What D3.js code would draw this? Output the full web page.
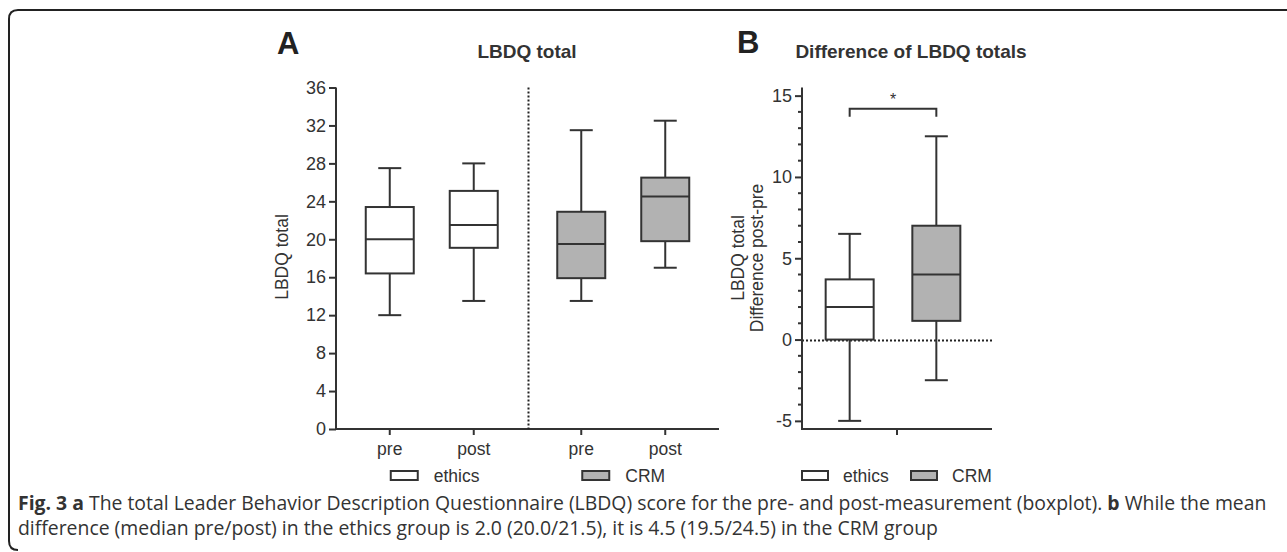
<!DOCTYPE html>
<html>
<head>
<meta charset="utf-8">
<script src="https://cdn.jsdelivr.net/npm/d3@7"></script>
<style>
  body { margin: 0; background: #fff; }
  svg { display: block; }
</style>
</head>
<body>
<script>
// panel A: LBDQ total, boxplot stats [min, q1, median, q3, max]
var groups = ["ethics", "CRM"];
var phases = ["pre", "post"];
var statsA = [
  { group: "ethics", phase: "pre",  v: [12, 16.4, 20, 23.4, 27.5] },
  { group: "ethics", phase: "post", v: [13.5, 19.1, 21.5, 25.1, 28] },
  { group: "CRM",    phase: "pre",  v: [13.5, 15.9, 19.5, 22.9, 31.5] },
  { group: "CRM",    phase: "post", v: [17, 19.8, 24.5, 26.5, 32.5] }
];
var ticksA = [0, 4, 8, 12, 16, 20, 24, 28, 32, 36];

// panel B: difference post-pre
var statsB = [
  { group: "ethics", v: [-5, 0, 2, 3.7, 6.5] },
  { group: "CRM",    v: [-2.5, 1.15, 4, 7, 12.5] }
];
var ticksB = [-5, 0, 5, 10, 15];
var minorB = d3.range(-5, 16, 1);

var colors = { ethics: "#ffffff", CRM: "#b2b2b2" };
var ink = "#333";

var width = 1287, height = 552;
var svg = d3.select("body").append("svg").attr("width", width).attr("height", height);

// frame
svg.append("path")
  .attr("d", "M1290,10 L18,10 Q9,10 9,19 L9,541 Q9,550 18,550")
  .attr("fill", "none").attr("stroke", "#222").attr("stroke-width", 2);

var font = "'Liberation Sans', Arial, sans-serif";
var boxW = 48, capW = 23;

function drawBox(g, cx, v, y, fill) {
  g.append("line").attr("x1", cx).attr("x2", cx).attr("y1", y(v[0])).attr("y2", y(v[1]));
  g.append("line").attr("x1", cx).attr("x2", cx).attr("y1", y(v[3])).attr("y2", y(v[4]));
  g.append("line").attr("x1", cx - capW / 2).attr("x2", cx + capW / 2).attr("y1", y(v[0])).attr("y2", y(v[0]));
  g.append("line").attr("x1", cx - capW / 2).attr("x2", cx + capW / 2).attr("y1", y(v[4])).attr("y2", y(v[4]));
  g.append("rect").attr("x", cx - boxW / 2).attr("y", y(v[3]))
    .attr("width", boxW).attr("height", y(v[1]) - y(v[3])).attr("fill", fill);
  g.append("line").attr("x1", cx - boxW / 2).attr("x2", cx + boxW / 2).attr("y1", y(v[2])).attr("y2", y(v[2]));
}

// ---------- panel A ----------
var yA = d3.scaleLinear().domain([0, 36]).range([429, 87.5]);
var xOuter = d3.scaleBand().domain(groups).range([336, 719]);
var xInner = d3.scalePoint().domain(phases).range([0, xOuter.bandwidth()]).padding(0.64);

var gA = svg.append("g").attr("font-family", font);

var axA = gA.append("g").attr("transform", "translate(336,0)")
  .call(d3.axisLeft(yA).tickValues(ticksA).tickSize(7).tickPadding(3));
axA.select(".domain").attr("d", "M0," + yA(36) + "V" + yA(0));
axA.selectAll("path, line").attr("stroke", ink).attr("stroke-width", 2);
axA.selectAll("text").attr("font-size", 18).attr("fill", ink).attr("font-family", font);

var xTicksA = [];
groups.forEach(function (gr) { phases.forEach(function (p) { xTicksA.push({ g: gr, p: p }); }); });
gA.append("line").attr("x1", 335).attr("x2", 719).attr("y1", yA(0)).attr("y2", yA(0))
  .attr("stroke", ink).attr("stroke-width", 2);
gA.selectAll(".xt").data(xTicksA).enter().append("line")
  .attr("x1", d => xOuter(d.g) + xInner(d.p)).attr("x2", d => xOuter(d.g) + xInner(d.p))
  .attr("y1", yA(0)).attr("y2", yA(0) + 6).attr("stroke", ink).attr("stroke-width", 2);
gA.selectAll(".xl").data(xTicksA).enter().append("text")
  .attr("x", d => xOuter(d.g) + xInner(d.p)).attr("y", 455)
  .attr("text-anchor", "middle").attr("font-size", 17.5).attr("fill", ink).text(d => d.p);

// dotted divider
gA.append("line").attr("x1", Math.round(xOuter("CRM")) + 0.5).attr("x2", Math.round(xOuter("CRM")) + 0.5)
  .attr("y1", yA(36)).attr("y2", yA(0))
  .attr("stroke", "#222").attr("stroke-width", 2).attr("stroke-dasharray", "2,2");

var boxesA = gA.append("g").attr("stroke", ink).attr("stroke-width", 2);
statsA.forEach(function (d) {
  drawBox(boxesA, xOuter(d.group) + xInner(d.phase), d.v, yA, colors[d.group]);
});

gA.append("text").attr("x", 277).attr("y", 54).attr("font-size", 31).attr("font-weight", "bold")
  .attr("fill", "#222").text("A");
gA.append("text").attr("x", 527).attr("y", 58).attr("text-anchor", "middle").attr("font-size", 19)
  .attr("font-weight", "bold").attr("fill", ink).text("LBDQ total");
gA.append("text").attr("transform", "translate(288,257) rotate(-90)").attr("text-anchor", "middle")
  .attr("font-size", 17.5).attr("fill", ink).text("LBDQ total");

// legend A
var legA = gA.selectAll(".legA").data(groups).enter().append("g")
  .attr("transform", d => "translate(" + (xOuter(d) + xInner("pre") + 1) + ",471)");
legA.append("rect").attr("width", 27).attr("height", 9).attr("fill", d => colors[d])
  .attr("stroke", ink).attr("stroke-width", 2);
legA.append("text").attr("x", 43).attr("y", 11).attr("font-size", 17.5).attr("fill", ink).text(d => d);

// ---------- panel B ----------
var yB = d3.scaleLinear().domain([-5.5, 15.5]).range([429, 87.5]);
var xB = d3.scalePoint().domain(groups).range([802, 984]).padding(0.55);
var gB = svg.append("g").attr("font-family", font);

gB.append("line").attr("x1", 802).attr("x2", 992).attr("y1", Math.round(yB(0)) + 0.5).attr("y2", Math.round(yB(0)) + 0.5)
  .attr("stroke", "#222").attr("stroke-width", 2).attr("stroke-dasharray", "2,2");

var axB = gB.append("g").attr("transform", "translate(802,0)")
  .call(d3.axisLeft(yB).tickValues(ticksB).tickSize(7).tickPadding(3).tickFormat(d => String(d)));
axB.select(".domain").attr("d", "M0," + yB(15.5) + "V" + yB(-5.5));
axB.selectAll("path, line").attr("stroke", ink).attr("stroke-width", 2);
axB.selectAll("text").attr("font-size", 18).attr("fill", ink).attr("font-family", font);
gB.selectAll(".minor").data(minorB.filter(d => d % 5 !== 0)).enter().append("line")
  .attr("x1", 798).attr("x2", 802).attr("y1", d => yB(d)).attr("y2", d => yB(d))
  .attr("stroke", ink).attr("stroke-width", 2);

gB.append("line").attr("x1", 801).attr("x2", 992).attr("y1", yB(-5.5)).attr("y2", yB(-5.5))
  .attr("stroke", ink).attr("stroke-width", 2);
gB.append("line").attr("x1", 897).attr("x2", 897).attr("y1", yB(-5.5)).attr("y2", yB(-5.5) + 6)
  .attr("stroke", ink).attr("stroke-width", 2);

var boxesB = gB.append("g").attr("stroke", ink).attr("stroke-width", 2);
statsB.forEach(function (d) { drawBox(boxesB, xB(d.group), d.v, yB, colors[d.group]); });

// significance bracket
var brY = yB(14.2);
gB.append("path")
  .attr("d", "M" + xB("ethics") + "," + (brY + 8) + "V" + brY + "H" + xB("CRM") + "V" + (brY + 8))
  .attr("fill", "none").attr("stroke", ink).attr("stroke-width", 2);
gB.append("text").attr("x", (xB("ethics") + xB("CRM")) / 2).attr("y", brY - 4)
  .attr("text-anchor", "middle").attr("font-size", 16).attr("fill", ink).text("*");

gB.append("text").attr("x", 737).attr("y", 53).attr("font-size", 31).attr("font-weight", "bold")
  .attr("fill", "#222").text("B");
gB.append("text").attr("x", 911).attr("y", 58).attr("text-anchor", "middle").attr("font-size", 19)
  .attr("font-weight", "bold").attr("fill", ink).text("Difference of LBDQ totals");
var ylB = gB.append("text").attr("transform", "translate(744,258) rotate(-90)")
  .attr("text-anchor", "middle").attr("font-size", 17.5).attr("fill", ink);
ylB.append("tspan").attr("x", 0).attr("dy", 0).text("LBDQ total");
ylB.append("tspan").attr("x", 0).attr("dy", 19).text("Difference post-pre");

// legend B
var legBx = { ethics: 802, CRM: 911 };
var legB = gB.selectAll(".legB").data(groups).enter().append("g")
  .attr("transform", d => "translate(" + legBx[d] + ",471)");
legB.append("rect").attr("width", 26).attr("height", 9).attr("fill", d => colors[d])
  .attr("stroke", ink).attr("stroke-width", 2);
legB.append("text").attr("x", 41).attr("y", 11).attr("font-size", 17.5).attr("fill", ink).text(d => d);

// ---------- caption ----------
var cap = svg.append("text").attr("font-family", "'Open Sans', 'Noto Sans', sans-serif")
  .attr("font-size", 19.4).attr("fill", "#333");
var l1 = cap.append("tspan").attr("x", 18).attr("y", 510);
l1.append("tspan").attr("font-weight", "bold").text("Fig. 3 a");
l1.append("tspan").text(" The total Leader Behavior Description Questionnaire (LBDQ) score for the pre- and post-measurement (boxplot). ");
l1.append("tspan").attr("font-weight", "bold").text("b");
l1.append("tspan").text(" While the mean");
cap.append("tspan").attr("x", 18).attr("y", 535)
  .text("difference (median pre/post) in the ethics group is 2.0 (20.0/21.5), it is 4.5 (19.5/24.5) in the CRM group");
</script>
</body>
</html>
